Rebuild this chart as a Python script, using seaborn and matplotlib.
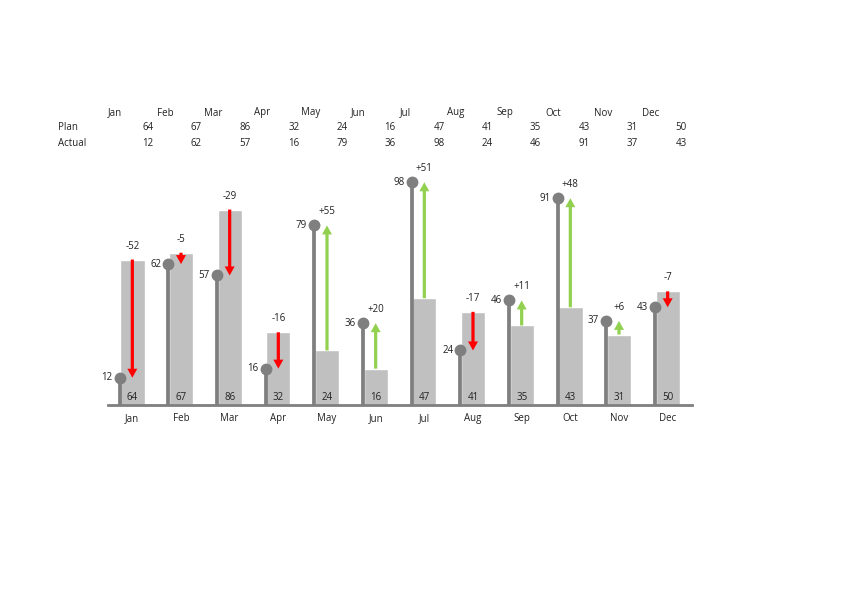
import numpy as np
import pandas as pd
import matplotlib
matplotlib.use("Agg")
import matplotlib.pyplot as plt
import seaborn as sns

months = ['Jan', 'Feb', 'Mar', 'Apr', 'May', 'Jun', 'Jul', 'Aug', 'Sep', 'Oct', 'Nov', 'Dec']
plan = [64, 67, 86, 32, 24, 16, 47, 41, 35, 43, 31, 50]
actual = [12, 62, 57, 16, 79, 36, 98, 24, 46, 91, 37, 43]

sns.set_style("white")
plt.rcParams['font.family'] = ['Open Sans', 'DejaVu Sans']

W, H = 842, 595
fig = plt.figure(figsize=(W / 100, H / 100), dpi=100)

# axes placed in pixel units
left, right, base, top = 108, 692, 405, 155
ax = fig.add_axes([left / W, (H - base) / H, (right - left) / W, (base - top) / H])

df = pd.DataFrame({'Month': months, 'Plan': plan, 'Actual': actual})
sns.barplot(data=df, x='Month', y='Plan', color='#C0C0C0', saturation=1,
            width=0.5, ax=ax)

ax.set_xlim(-0.5, 11.5)
ax.set_ylim(0, 110)

x = np.arange(len(months))
ux = (right - left) / 12.0           # px per category
uy = (base - top) / 110.0            # px per value unit
stem_off = -0.262

for i in range(len(months)):
    p, a = plan[i], actual[i]
    d = a - p
    sx = x[i] + stem_off
    # actual lollipop
    ax.plot([sx, sx], [0, a], color='#7F7F7F', lw=2.7, solid_capstyle='butt', zorder=3)
    ax.plot(sx, a, 'o', color='#7F7F7F', ms=7.5, zorder=4)
    ax.text(sx - 7 / ux, a, str(a), ha='right', va='center', fontsize=7, color='#222222')
    # variance arrow
    col = '#92D050' if d > 0 else '#FF0000'
    ax.arrow(x[i], p, 0, d, width=3.2 / ux, head_width=10 / ux, head_length=9 / uy,
             length_includes_head=True, color=col, lw=0, zorder=5)
    lab = '+%d' % d if d > 0 else '%d' % d
    ax.text(x[i], max(p, a) + 8 / uy, lab, ha='center', va='bottom', fontsize=7, color='#222222')
    # plan value inside bar
    ax.text(x[i], 8 / uy, str(p), ha='center', va='center', fontsize=7, color='#222222', zorder=6)

sns.despine(ax=ax, left=True)
ax.spines['bottom'].set_color('#7F7F7F')
ax.spines['bottom'].set_linewidth(2)
ax.set_yticks([])
ax.set_xlabel('')
ax.set_ylabel('')
ax.set_xticks(x)
ax.set_xticklabels(months, fontsize=7, color='#222222')
ax.tick_params(axis='x', which='major', length=0, pad=6)
ax.set_xticks(np.arange(-0.5, 12, 1), minor=True)
ax.tick_params(axis='x', which='minor', length=4, width=0.6, color='#BFBFBF', direction='out')

# data table above the chart
head_x = [115, 165, 213, 262, 311, 358, 405, 456, 505, 553, 603, 651]
val_x = [148, 196, 245, 294, 342, 390, 439, 487, 535, 584, 632, 681]
for i, m in enumerate(months):
    fig.text(head_x[i] / W, 1 - 113 / H, m, ha='center', va='center', fontsize=7, color='#222222')
    fig.text(val_x[i] / W, 1 - 128 / H, str(plan[i]), ha='center', va='center', fontsize=7, color='#222222')
    fig.text(val_x[i] / W, 1 - 143 / H, str(actual[i]), ha='center', va='center', fontsize=7, color='#222222')
fig.text(58 / W, 1 - 128 / H, 'Plan', ha='left', va='center', fontsize=7, color='#222222')
fig.text(58 / W, 1 - 143 / H, 'Actual', ha='left', va='center', fontsize=7, color='#222222')

fig.savefig('out.png', dpi=100)
